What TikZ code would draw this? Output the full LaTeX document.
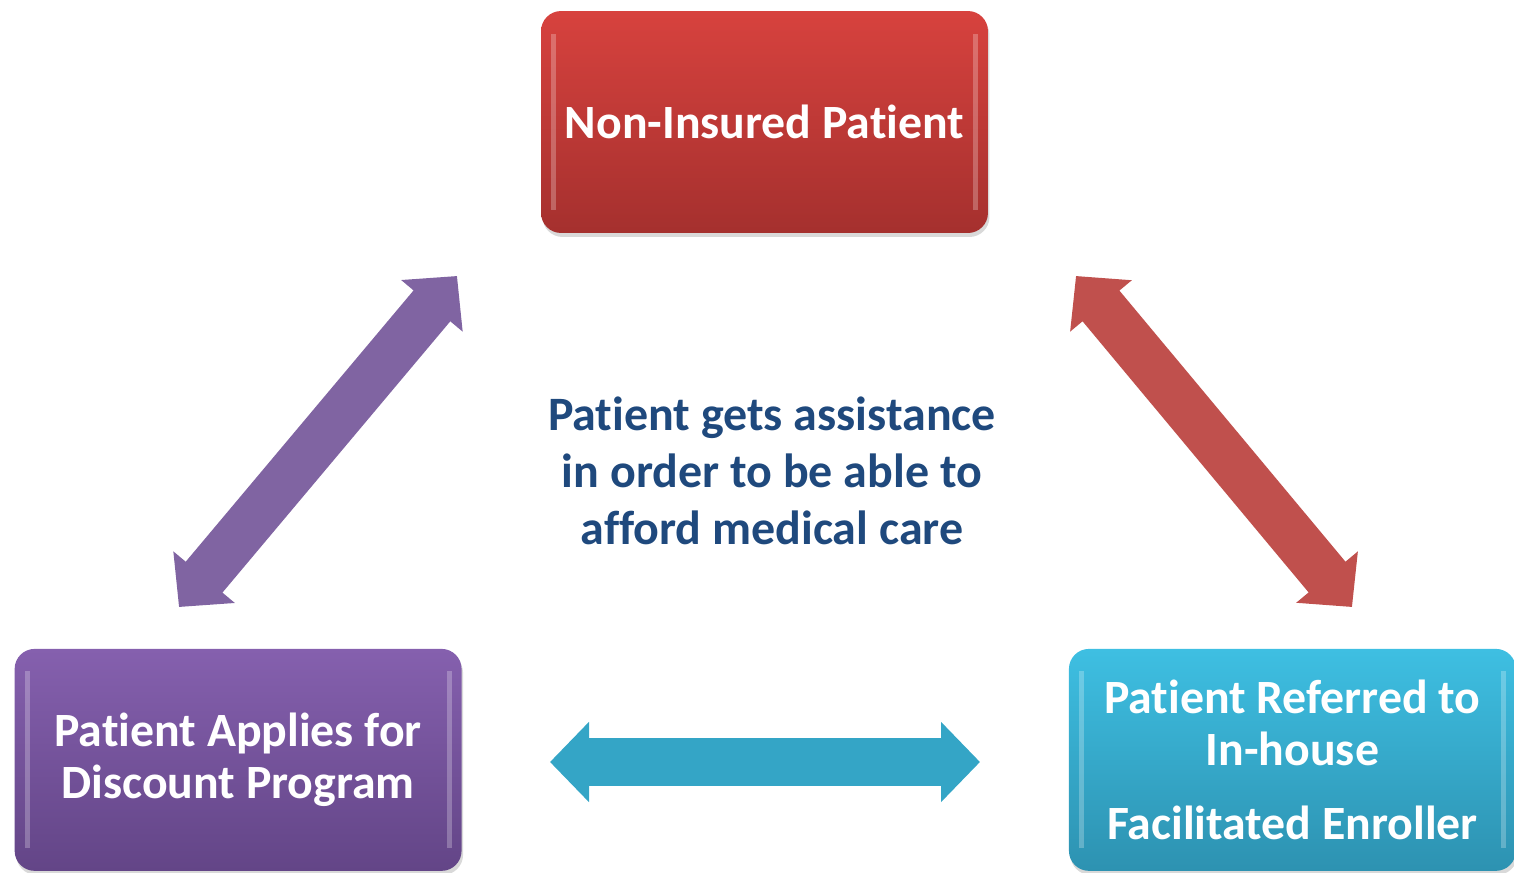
\documentclass[tikz,border=0pt]{standalone}
\usepackage{fontspec}
\setmainfont{Carlito}[Ligatures={NoCommon}]
\usetikzlibrary{arrows.meta,positioning,shadows}

\definecolor{redtop}{HTML}{D7423E}
\definecolor{redbot}{HTML}{A5302E}
\definecolor{violettop}{HTML}{8560AE}
\definecolor{violetbot}{HTML}{634587}
\definecolor{cyantop}{HTML}{3EBFE2}
\definecolor{cyanbot}{HTML}{2D92B1}
\definecolor{linkred}{HTML}{C0504D}
\definecolor{linkviolet}{HTML}{8064A2}
\definecolor{linkcyan}{HTML}{34A5C6}
\definecolor{goalblue}{HTML}{1F497D}

\begin{document}
\begin{tikzpicture}[
    x=0.02cm, y=-0.02cm,
    node distance=12.76cm,
    stage/.style={rectangle, rounded corners=0.4cm, minimum width=8.94cm, minimum height=4.44cm, align=center, text=white, font=\fontsize{27.2}{30}\selectfont\bfseries, drop shadow={shadow xshift=0.03cm, shadow yshift=-0.08cm, opacity=0.3}, bevel},
    bevel/.style={path picture={
        \fill[white, opacity=0.25, sharp corners] ([xshift=0.2cm, yshift=-0.45cm]path picture bounding box.north west) rectangle ([xshift=0.3cm, yshift=0.45cm]path picture bounding box.south west);
        \fill[white, opacity=0.25, sharp corners] ([xshift=-0.2cm, yshift=-0.45cm]path picture bounding box.north east) rectangle ([xshift=-0.3cm, yshift=0.45cm]path picture bounding box.south east);}},
    redbox/.style={stage, top color=redtop, bottom color=redbot},
    violetbox/.style={stage, top color=violettop, bottom color=violetbot},
    cyanbox/.style={stage, top color=cyantop, bottom color=cyanbot},
    goaltext/.style={align=center, text=goalblue, font=\fontsize{27.3}{32.5}\selectfont\bfseries},
    link/.style={line width=0.96cm, {Triangle[length=0.78cm, width=1.56cm]}-{Triangle[length=0.78cm, width=1.56cm]}}
]
    \useasboundingbox (0,0) rectangle (1514,872);

    % Stages
    \node [redbox] (patient) at (764.5,122) {Non-Insured Patient};
    \node [violetbox, below of=patient, xshift=-10.53cm] (discount) {Patient Applies for\\Discount Program};
    \node [cyanbox, below of=patient, xshift=10.56cm] (enroller) {Patient Referred to\\In-house\\[0.42cm]Facilitated Enroller};

    % Goal
    \node [goaltext] (goal) at (772,471) {Patient gets assistance\\in order to be able to\\afford medical care};

    % Arrow ends
    \coordinate (vtop) at (457,276);
    \coordinate (vbot) at (179,607);
    \coordinate (rtop) at (1076,276);
    \coordinate (rbot) at (1352,607);
    \coordinate (cleft) at (550,762);
    \coordinate (cright) at (980,762);

    % Arrows
    \draw [link, linkviolet] (vtop) -- (vbot);
    \draw [link, linkred] (rtop) -- (rbot);
    \draw [link, linkcyan] (cleft) -- (cright);
\end{tikzpicture}
\end{document}
